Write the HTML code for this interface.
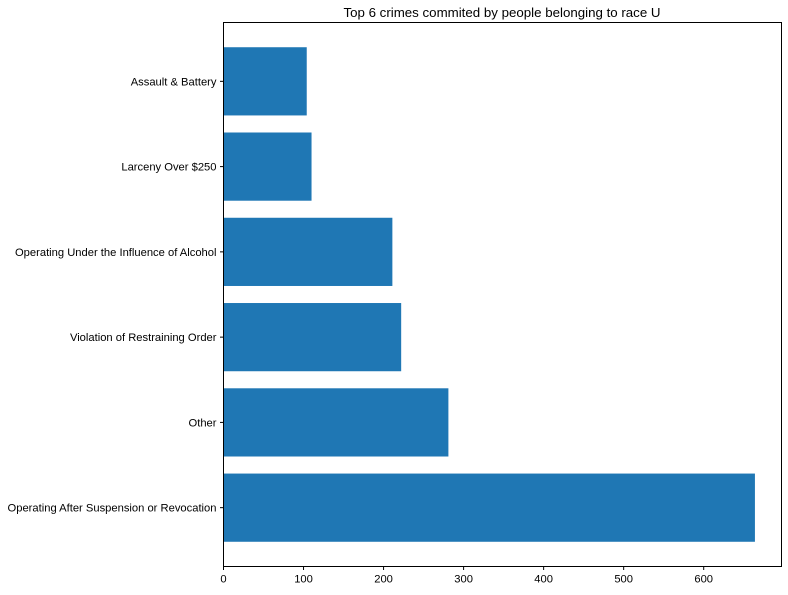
<!DOCTYPE html>
<html><head><meta charset="utf-8"><style>
body{margin:0;background:#fff;}
svg text{font-family:"Liberation Sans","DejaVu Sans",sans-serif;fill:#000;}
</style></head><body>
<svg id="chart" width="788" height="590" xmlns="http://www.w3.org/2000/svg">
<text x="502" y="17" font-size="13.3" text-anchor="middle">Top 6 crimes commited by people belonging to race U</text>
<g id="bars"></g><g id="yticks"></g><g id="xticks"></g>
<rect x="223.5" y="22.5" width="558" height="544" fill="none" stroke="#000" stroke-width="1"/>
</svg>
<script>
const categories=["Operating After Suspension or Revocation","Other","Violation of Restraining Order","Operating Under the Influence of Alcohol","Larceny Over $250","Assault & Battery"];
const counts=[664,281,222,211,110,104];
const xTickLabels=[0,100,200,300,400,500,600];
const L=223.5,R=781.5,T=22.5,B=566.5;
const xMax=Math.max(...counts)*1.05;
const xs=v=>L+v/xMax*(R-L);
const yMin=-0.4-0.05*(categories.length-0.2),yMax=categories.length-0.6+0.05*(categories.length-0.2);
const ys=v=>B-(v-yMin)/(yMax-yMin)*(B-T);
const NS="http://www.w3.org/2000/svg";
const bars=document.getElementById('bars'),yt=document.getElementById('yticks'),xt=document.getElementById('xticks');
categories.forEach((c,i)=>{
 const r=document.createElementNS(NS,'rect');
 
 
 const y0=ys(i+0.4),y1=ys(i-0.4);
 r.setAttribute('x',xs(0));r.setAttribute('y',y0);r.setAttribute('width',xs(counts[i])-xs(0));r.setAttribute('height',y1-y0);r.setAttribute('fill','#1f77b4');
 bars.appendChild(r);
 const l=document.createElementNS(NS,'line');
 
 
 l.setAttribute('x1',L-3.5);l.setAttribute('x2',L);l.setAttribute('y1',ys(i));l.setAttribute('y2',ys(i));l.setAttribute('stroke','#000');
 yt.appendChild(l);
 const t=document.createElementNS(NS,'text');
 
 
 t.setAttribute('x',L-7);t.setAttribute('y',ys(i)+4);t.setAttribute('font-size','11.2');t.setAttribute('text-anchor','end');t.textContent=c;
 yt.appendChild(t);
});
xTickLabels.forEach(v=>{
 const l=document.createElementNS(NS,'line');
 
 
 l.setAttribute('x1',xs(v));l.setAttribute('x2',xs(v));l.setAttribute('y1',B);l.setAttribute('y2',B+3.5);l.setAttribute('stroke','#000');
 xt.appendChild(l);
 const t=document.createElementNS(NS,'text');
 
 
 t.setAttribute('x',xs(v));t.setAttribute('y',B+16);t.setAttribute('font-size','11.2');t.setAttribute('text-anchor','middle');t.textContent=v;
 xt.appendChild(t);
});
</script>
</body></html>
